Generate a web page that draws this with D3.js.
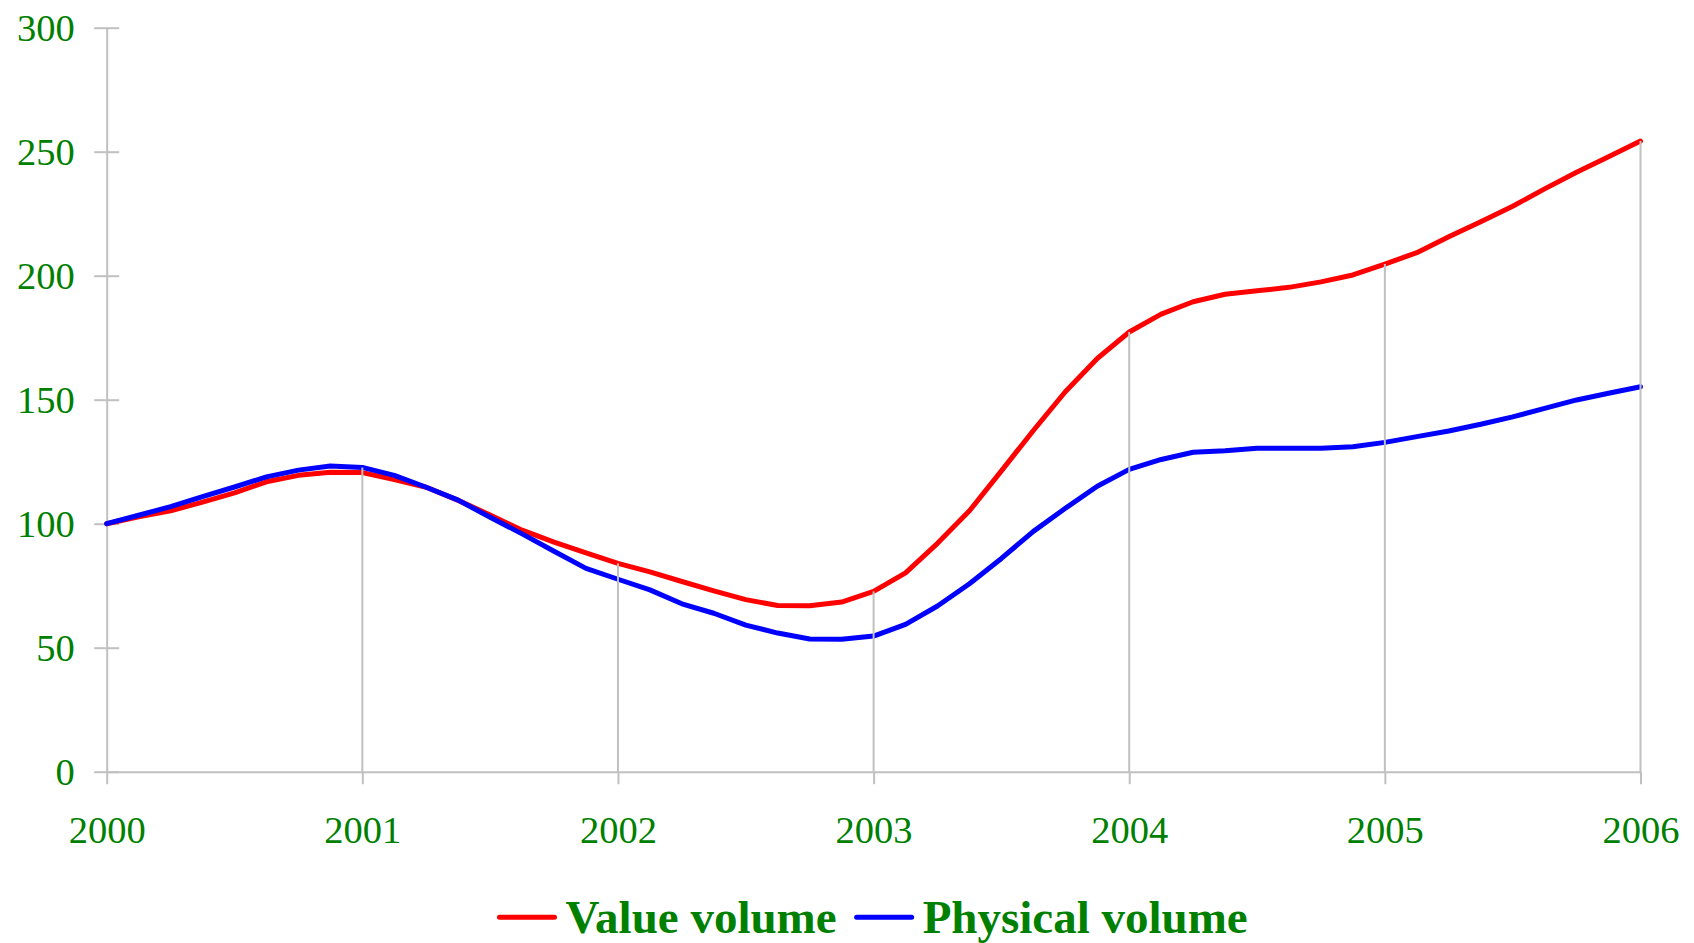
<!DOCTYPE html>
<html>
<head>
<meta charset="utf-8">
<script src="https://cdn.jsdelivr.net/npm/d3@7"></script>
<style>
  html, body { margin: 0; padding: 0; background: #ffffff; }
  svg { display: block; }
</style>
</head>
<body>
<svg id="chart" width="1694" height="943"></svg>
<script>
// ---- data ----
const periods = [
  2000.000, 2000.125, 2000.250, 2000.375, 2000.500, 2000.625, 2000.750, 2000.875,
  2001.000, 2001.125, 2001.250, 2001.375, 2001.500, 2001.625, 2001.750, 2001.875,
  2002.000, 2002.125, 2002.250, 2002.375, 2002.500, 2002.625, 2002.750, 2002.875,
  2003.000, 2003.125, 2003.250, 2003.375, 2003.500, 2003.625, 2003.750, 2003.875,
  2004.000, 2004.125, 2004.250, 2004.375, 2004.500, 2004.625, 2004.750, 2004.875,
  2005.000, 2005.125, 2005.250, 2005.375, 2005.500, 2005.625, 2005.750, 2005.875,
  2006.000
];
const valueVolume = [
  100.0, 102.8, 105.2, 108.7, 112.4, 116.9, 119.5, 120.7,
  120.6, 117.8, 114.7, 109.4, 103.5, 97.4, 92.6, 88.2,
  84.0, 80.6, 76.7, 72.9, 69.4, 67.0, 66.9, 68.4,
  72.7, 80.2, 92.1, 105.2, 121.3, 137.6, 153.2, 166.6,
  177.3, 184.5, 189.5, 192.5, 193.9, 195.3, 197.5, 200.3,
  204.7, 209.3, 215.7, 221.8, 228.0, 235.0, 241.7, 248.0,
  254.3
];
const physicalVolume = [
  100.0, 103.4, 106.9, 110.9, 114.8, 118.9, 121.6, 123.3,
  122.7, 119.5, 114.7, 109.5, 102.6, 95.9, 88.9, 82.0,
  77.6, 73.3, 67.7, 63.9, 59.1, 55.9, 53.5, 53.4,
  54.7, 59.4, 66.8, 75.8, 86.0, 96.9, 106.2, 115.1,
  121.9, 125.9, 128.8, 129.4, 130.4, 130.4, 130.4, 131.0,
  132.8, 135.1, 137.4, 140.1, 143.1, 146.5, 149.9, 152.6,
  155.2
];
const seriesNames = ["Value volume", "Physical volume"];
const seriesColors = ["#ff0000", "#0000ff"];
const yearTicks = [2000, 2001, 2002, 2003, 2004, 2005, 2006];
const valueTicks = [0, 50, 100, 150, 200, 250, 300];

// ---- layout ----
const svg = d3.select("#chart");
const plotLeft = 106.7, plotRight = 1640.5, plotTop = 27.7, plotBottom = 771.7;
const x = d3.scaleLinear().domain([2000, 2006]).range([plotLeft, plotRight]);
const y = d3.scaleLinear().domain([0, 300]).range([plotBottom, plotTop]);
const gridColor = "#c0c0c0";
const textColor = "#008000";
const fontFam = "'Palatino Linotype', 'Book Antiqua', Palatino, 'Liberation Serif', 'DejaVu Serif', serif";

// y axis
const yAxis = d3.axisLeft(y).tickValues(valueTicks).tickSizeInner(12.5).tickSizeOuter(0).tickPadding(19.5);
const gy = svg.append("g").attr("transform", `translate(${plotLeft},0)`).call(yAxis);
gy.select(".domain").attr("stroke", gridColor).attr("stroke-width", 2);
gy.selectAll(".tick line").attr("stroke", gridColor).attr("stroke-width", 2).attr("x1", 12.5);
gy.selectAll(".tick text").attr("fill", textColor).style("font-family", fontFam).style("font-size", "38.5px");

// x axis
const xAxis = d3.axisBottom(x).tickValues(yearTicks).tickFormat(d3.format("d"))
  .tickSizeInner(12.5).tickSizeOuter(0).tickPadding(31);
const gx = svg.append("g").attr("transform", `translate(0,${plotBottom})`).call(xAxis);
gx.select(".domain").attr("stroke", gridColor).attr("stroke-width", 2);
gx.selectAll(".tick line").attr("stroke", gridColor).attr("stroke-width", 2);
gx.selectAll(".tick text").attr("fill", textColor).style("font-family", fontFam).style("font-size", "38.5px");

// series
const seriesData = [valueVolume, physicalVolume];
const line = d3.line().x((d, i) => x(periods[i])).y(d => y(d));
seriesData.forEach((vals, k) => {
  svg.append("path")
    .datum(vals)
    .attr("d", line)
    .attr("fill", "none")
    .attr("stroke", seriesColors[k])
    .attr("stroke-width", 5)
    .attr("stroke-linejoin", "round")
    .attr("stroke-linecap", "round");
});

// drop lines at each year (from axis to the highest series)
const dropYears = yearTicks.slice(1);
svg.append("g").selectAll("line")
  .data(dropYears)
  .join("line")
  .attr("x1", d => x(d)).attr("x2", d => x(d))
  .attr("y1", y(0))
  .attr("y2", d => {
    const i = periods.findIndex(p => Math.abs(p - d) < 1e-6);
    return y(Math.max(valueVolume[i], physicalVolume[i]));
  })
  .attr("stroke", gridColor)
  .attr("stroke-width", 2);

// legend
const legend = svg.append("g");
const legendY = 917.3;
const lineLen = 55, gapLineText = 11, gapItems = 20;
const items = [];
seriesNames.forEach((name, k) => {
  const g = legend.append("g");
  g.append("line").attr("x1", 0).attr("x2", lineLen).attr("y1", legendY).attr("y2", legendY)
    .attr("stroke", seriesColors[k]).attr("stroke-width", 5).attr("stroke-linecap", "round");
  const t = g.append("text").attr("x", lineLen + gapLineText).attr("y", 933.3)
    .attr("fill", textColor).style("font-family", fontFam).style("font-size", "47px")
    .style("font-weight", "bold").text(name);
  items.push({ g, w: lineLen + gapLineText + t.node().getComputedTextLength() });
});
const total = d3.sum(items, d => d.w) + gapItems * (items.length - 1);
let cx = (plotLeft + plotRight) / 2 - total / 2;
items.forEach(it => {
  it.g.attr("transform", `translate(${cx},0)`);
  cx += it.w + gapItems;
});
</script>
</body>
</html>
